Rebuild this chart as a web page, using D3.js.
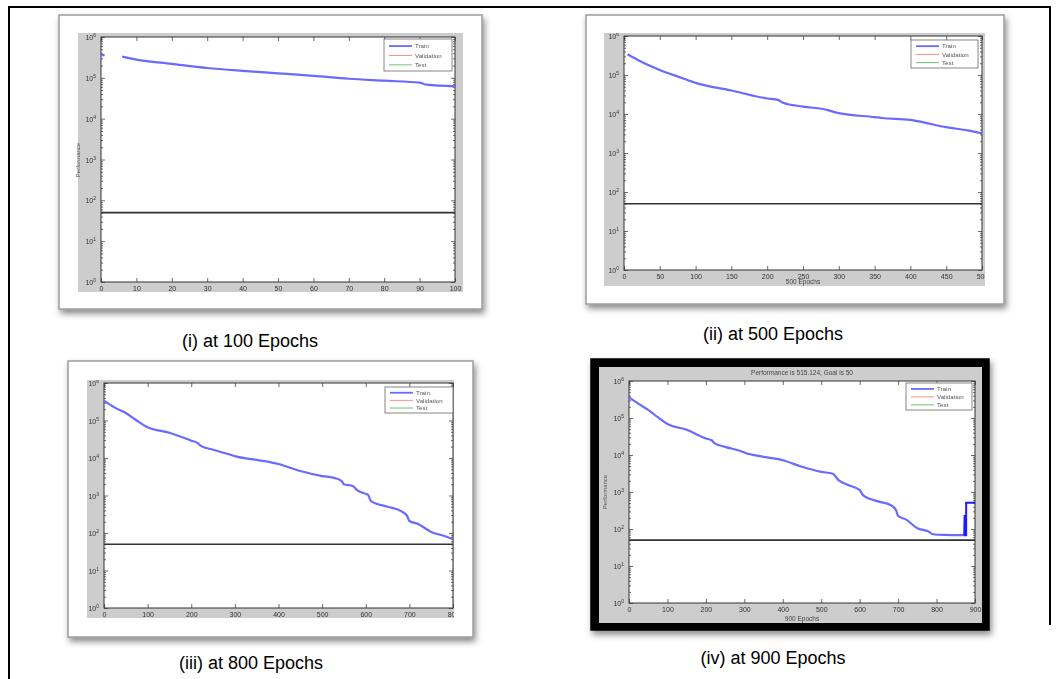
<!DOCTYPE html>
<html>
<head>
<meta charset="utf-8">
<script src="https://cdn.jsdelivr.net/npm/d3@7"></script>
<style>
  body { margin: 0; background: #fff; }
  svg { display: block; }
  text { font-family: "Liberation Sans", Arial, sans-serif; }
</style>
</head>
<body>
<div id="chart"></div>
<script>
// Shared settings
const goal = 50;
const legendNames = ["Train", "Validation", "Test"];
const legendColors = ["#6a6aff", "#ff8c8c", "#6fbf6f"];
const yTicks = [1, 10, 100, 1e3, 1e4, 1e5, 1e6];
const captions = ["(i) at 100 Epochs", "(ii) at 500 Epochs", "(iii) at 800 Epochs", "(iv) at 900 Epochs"];

// (i) 100 epochs
const p1XTicks = [0, 10, 20, 30, 40, 50, 60, 70, 80, 90, 100];
const p1Epochs = [0, 1, 3, 6, 10, 20, 30, 40, 50, 60, 70, 80, 90, 92, 100];
const p1Train = [3.6e5, 3.6e5, null, 3.3e5, 2.8e5, 2.2e5, 1.74e5, 1.48e5, 1.29e5, 1.12e5, 9.5e4, 8.5e4, 7.6e4, 6.8e4, 6.2e4];

// (ii) 500 epochs
const p2XTicks = [0, 50, 100, 150, 200, 250, 300, 350, 400, 450, 500];
const p2Epochs = [5, 20, 50, 80, 100, 150, 200, 215, 222, 250, 285, 295, 300, 350, 360, 400, 420, 450, 480, 500];
const p2Train = [3.4e5, 2.4e5, 1.35e5, 8.5e4, 6.3e4, 4.0e4, 2.5e4, 2.3e4, 1.95e4, 1.55e4, 1.26e4, 1.1e4, 1.05e4, 8.3e3, 7.9e3, 7.1e3, 6.0e3, 4.6e3, 3.8e3, 3.2e3];

// (iii) 800 epochs
const p3XTicks = [0, 100, 200, 300, 400, 500, 600, 700, 800];
const p3Epochs = [0, 25, 50, 75, 100, 150, 200, 215, 222, 250, 295, 300, 350, 400, 450, 500, 530, 545, 550, 570, 580, 600, 605, 612, 650, 680, 695, 700, 720, 750, 780, 800];
const p3Train = [3.4e5, 2.2e5, 1.58e5, 1.0e5, 6.6e4, 4.7e4, 2.9e4, 2.5e4, 2.1e4, 1.66e4, 1.17e4, 1.12e4, 8.9e3, 6.9e3, 4.5e3, 3.3e3, 2.9e3, 2.4e3, 2.0e3, 1.8e3, 1.4e3, 1.1e3, 1.05e3, 708, 500, 389, 282, 209, 174, 107, 83, 68];

// (iv) 900 epochs
const p4XTicks = [0, 100, 200, 300, 400, 500, 600, 700, 800, 900];
const p4Epochs = [0, 25, 50, 75, 100, 150, 200, 215, 222, 250, 295, 300, 350, 400, 450, 500, 530, 545, 570, 600, 610, 650, 680, 695, 700, 720, 750, 780, 790, 820, 872, 873, 874, 877, 877, 900];
const p4Train = [3.6e5, 2.4e5, 1.66e5, 1.05e5, 6.9e4, 4.8e4, 2.8e4, 2.5e4, 2.1e4, 1.66e4, 1.23e4, 1.17e4, 8.9e3, 7.2e3, 4.8e3, 3.5e3, 3.1e3, 2.1e3, 1.55e3, 1.12e3, 794, 550, 447, 316, 224, 182, 105, 85, 72, 69, 68, 240, 68, 68, 515, 515];

const width = 1057;
const height = 679;

const svg = d3.select("#chart").append("svg")
    .attr("width", width)
    .attr("height", height);

const defs = svg.append("defs");
const shadow = defs.append("filter").attr("id", "shadow")
    .attr("x", "-10%").attr("y", "-10%").attr("width", "125%").attr("height", "130%");
shadow.append("feDropShadow")
    .attr("dx", 2).attr("dy", 4).attr("stdDeviation", 3)
    .attr("flood-color", "#000").attr("flood-opacity", 0.45);
const soft = defs.append("filter").attr("id", "soft");
soft.append("feGaussianBlur").attr("stdDeviation", 0.55);

// outer table border (top, left, right)
svg.append("path")
    .attr("d", "M9,679 V7 H1050 V625")
    .attr("fill", "none")
    .attr("stroke", "#000")
    .attr("stroke-width", 2);

// panel layout: frame, grey figure area, axes box, legend box (x0, y0, x1, y1)
const panels = [
    { epochs: p1Epochs, train: p1Train, xTicks: p1XTicks, xMax: 100,
      frame: [59, 15, 482, 309], fig: [78, 33, 463, 292], plot: [101, 37, 455, 282],
      legend: [384, 39, 452, 71], yLabel: [80, 160] },
    { epochs: p2Epochs, train: p2Train, xTicks: p2XTicks, xMax: 500,
      frame: [586, 15, 1004, 304], fig: [604, 33, 985, 286], plot: [624, 36, 982, 270],
      legend: [911, 40, 978, 68], xLabel: "500 Epochs" },
    { epochs: p3Epochs, train: p3Train, xTicks: p3XTicks, xMax: 800,
      frame: [68, 361, 473, 637], fig: [87, 380, 454, 618], plot: [104, 383, 453, 608],
      legend: [385, 387, 453, 413] },
    { epochs: p4Epochs, train: p4Train, xTicks: p4XTicks, xMax: 900, dark: true,
      frame: [591, 359, 989, 630], fig: [599, 367, 982, 623], plot: [629, 381, 975, 603],
      legend: [906, 383, 972, 410], xLabel: "900 Epochs", yLabel: [607, 492],
      title: "Performance is 515.124, Goal is 50", highlightFrom: 872 }
];

panels.forEach((p, k) => {
    const g = svg.append("g");
    const [fx0, fy0, fx1, fy1] = p.frame;
    const [gx0, gy0, gx1, gy1] = p.fig;
    const [px0, py0, px1, py1] = p.plot;

    // frame
    g.append("rect")
        .attr("x", fx0).attr("y", fy0)
        .attr("width", fx1 - fx0).attr("height", fy1 - fy0)
        .attr("fill", p.dark ? "#000" : "#fff")
        .attr("stroke", p.dark ? "#000" : "#9c9c9c")
        .attr("stroke-width", 1.5)
        .attr("filter", "url(#shadow)");

    const fig = g.append("g").attr("filter", "url(#soft)");
    const clipId = "clip" + k;
    defs.append("clipPath").attr("id", clipId)
        .append("rect").attr("x", gx0).attr("y", gy0)
        .attr("width", gx1 - gx0).attr("height", gy1 - gy0);

    fig.append("rect")
        .attr("x", gx0).attr("y", gy0)
        .attr("width", gx1 - gx0).attr("height", gy1 - gy0)
        .attr("fill", "#cdcdcd");
    fig.append("rect")
        .attr("x", px0).attr("y", py0)
        .attr("width", px1 - px0).attr("height", py1 - py0)
        .attr("fill", "#fff");

    const x = d3.scaleLinear().domain([0, p.xMax]).range([px0, px1]);
    const y = d3.scaleLog().domain([1, 1e6]).range([py1, py0]);
    const minor = y.ticks().filter(v => !yTicks.includes(v));

    const axes = fig.append("g").attr("clip-path", `url(#${clipId})`);

    // bottom axis with labels
    const xb = axes.append("g").attr("transform", `translate(0,${py1})`)
        .call(d3.axisBottom(x).tickValues(p.xTicks).tickSize(-4).tickPadding(4));
    xb.selectAll("text").attr("font-size", 7).attr("fill", "#333");
    axes.append("g").attr("transform", `translate(0,${py0})`)
        .call(d3.axisTop(x).tickValues(p.xTicks).tickSize(-4).tickFormat(""));

    // left/right axes with major and minor ticks
    [[px0, d3.axisLeft], [px1, d3.axisRight]].forEach(([pos, ax]) => {
        axes.append("g").attr("transform", `translate(${pos},0)`)
            .call(ax(y).tickValues(yTicks).tickSize(-4).tickFormat(""));
        axes.append("g").attr("transform", `translate(${pos},0)`)
            .call(ax(y).tickValues(minor).tickSize(-2).tickFormat(""));
    });
    axes.selectAll(".domain").remove();
    axes.selectAll(".tick line").attr("stroke", "#444").attr("stroke-width", 0.8);

    // y tick labels 10^n
    const yl = axes.append("g").selectAll("text")
        .data(yTicks)
        .join("text")
        .attr("x", px0 - 5)
        .attr("y", d => y(d) + 3)
        .attr("text-anchor", "end")
        .attr("font-size", 7)
        .attr("fill", "#333");
    yl.append("tspan").text("10");
    yl.append("tspan").attr("dy", -3).attr("font-size", 5).text(d => Math.round(Math.log10(d)));

    // axes box
    fig.append("rect")
        .attr("x", px0).attr("y", py0)
        .attr("width", px1 - px0).attr("height", py1 - py0)
        .attr("fill", "none")
        .attr("stroke", "#333")
        .attr("stroke-width", 1);

    // goal line
    fig.append("line")
        .attr("x1", x(0)).attr("x2", x(p.xMax))
        .attr("y1", y(goal)).attr("y2", y(goal))
        .attr("stroke", "#333")
        .attr("stroke-width", 1.6);

    // train curve (smooth part, then the final jump drawn straight)
    const pts = p.epochs.map((e, i) => [e, p.train[i]]);
    const smooth = d3.line()
        .defined(d => d[1] != null)
        .curve(d3.curveMonotoneX)
        .x(d => x(d[0]))
        .y(d => y(d[1]));
    const straight = d3.line()
        .x(d => x(d[0]))
        .y(d => y(d[1]));
    const cut = p.highlightFrom != null ? p.highlightFrom : Infinity;
    fig.append("path")
        .datum(pts.filter(d => d[0] <= cut))
        .attr("d", smooth)
        .attr("fill", "none")
        .attr("stroke", legendColors[0])
        .attr("stroke-width", 2.2)
        .attr("stroke-linejoin", "round");
    if (p.highlightFrom != null) {
        fig.append("path")
            .datum(pts.filter(d => d[0] >= cut))
            .attr("d", straight)
            .attr("fill", "none")
            .attr("stroke", "#1a1aff")
            .attr("stroke-width", 2);
    }

    // legend
    const [lx0, ly0, lx1, ly1] = p.legend;
    fig.append("rect")
        .attr("x", lx0).attr("y", ly0)
        .attr("width", lx1 - lx0).attr("height", ly1 - ly0)
        .attr("fill", "#fff")
        .attr("stroke", "#666")
        .attr("stroke-width", 0.8);
    const rowH = (ly1 - ly0) / 3.4;
    legendNames.forEach((name, i) => {
        const ry = ly0 + rowH * (i + 0.75);
        fig.append("line")
            .attr("x1", lx0 + 5).attr("x2", lx0 + 28)
            .attr("y1", ry).attr("y2", ry)
            .attr("stroke", legendColors[i])
            .attr("stroke-width", i === 0 ? 1.8 : 1);
        fig.append("text")
            .attr("x", lx0 + 31).attr("y", ry + 2.2)
            .attr("font-size", 6.2)
            .attr("fill", "#555")
            .text(name);
    });

    // axis labels and title
    if (p.xLabel) {
        fig.append("text")
            .attr("x", (px0 + px1) / 2).attr("y", gy1 - 2)
            .attr("text-anchor", "middle")
            .attr("font-size", 6.5)
            .attr("fill", "#444")
            .text(p.xLabel);
    }
    if (p.yLabel) {
        fig.append("text")
            .attr("transform", `translate(${p.yLabel[0]},${p.yLabel[1]}) rotate(-90)`)
            .attr("text-anchor", "middle")
            .attr("font-size", 6)
            .attr("fill", "#555")
            .text("Performance");
    }
    if (p.title) {
        fig.append("text")
            .attr("x", (px0 + px1) / 2).attr("y", py0 - 6)
            .attr("text-anchor", "middle")
            .attr("font-size", 6.5)
            .attr("fill", "#444")
            .text(p.title);
    }
});

// captions
const capPos = [[250, 347], [773, 340], [251, 669], [773, 664]];
svg.append("g").selectAll("text")
    .data(captions)
    .join("text")
    .attr("x", (d, i) => capPos[i][0])
    .attr("y", (d, i) => capPos[i][1])
    .attr("text-anchor", "middle")
    .attr("font-size", 18)
    .attr("fill", "#000")
    .text(d => d);
</script>
</body>
</html>
